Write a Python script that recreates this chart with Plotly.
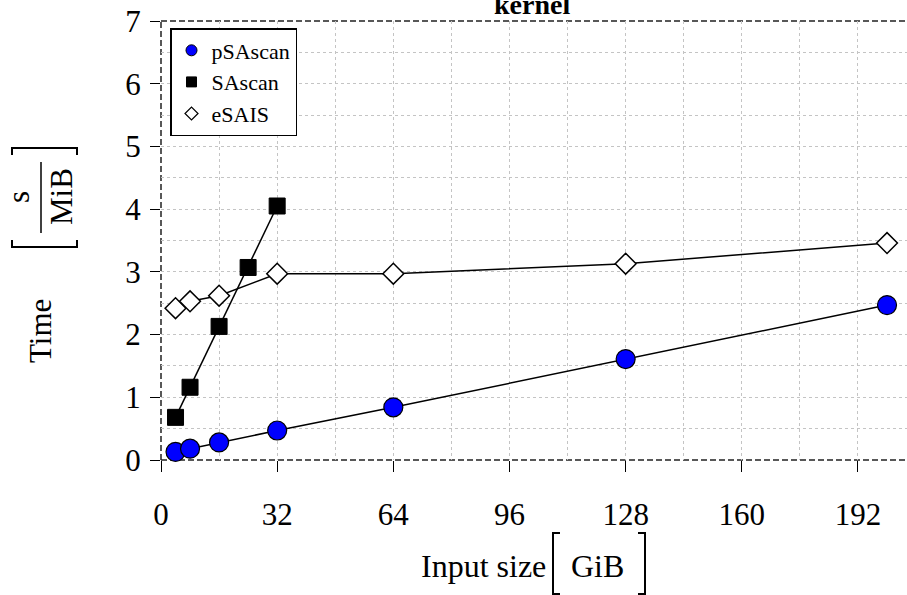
import plotly.graph_objects as go

# ---- data ----
x_psascan = [4, 8, 16, 32, 64, 128, 200]
y_psascan = [0.13, 0.18, 0.28, 0.47, 0.84, 1.61, 2.47]
x_sascan = [4, 8, 16, 24, 32]
y_sascan = [0.68, 1.16, 2.13, 3.07, 4.05]
x_esais = [4, 8, 16, 32, 64, 128, 200]
y_esais = [2.42, 2.53, 2.62, 2.97, 2.97, 3.13, 3.46]
x_ticks = [0, 32, 64, 96, 128, 160, 192]
y_ticks = [0, 1, 2, 3, 4, 5, 6, 7]

FONT = "Liberation Serif"
W, H = 907, 595
L, R, T, B = 161, 907, 21, 460


def px(X):
    return (X - L) / (R - L)


def py(Y):
    return (B - Y) / (B - T)


fig = go.Figure()

line_style = dict(color="black", width=1.5)
# data traces (no legend)
fig.add_trace(go.Scatter(x=x_esais, y=y_esais, mode="lines+markers", showlegend=False,
                         line=line_style, cliponaxis=False,
                         marker=dict(symbol="diamond", size=16, color="white",
                                     line=dict(color="black", width=1.5))))
fig.add_trace(go.Scatter(x=x_sascan, y=y_sascan, mode="lines+markers", showlegend=False,
                         line=line_style, cliponaxis=False,
                         marker=dict(symbol="square", size=16, color="black",
                                     line=dict(color="black", width=1))))
fig.add_trace(go.Scatter(x=x_psascan, y=y_psascan, mode="lines+markers", showlegend=False,
                         line=line_style, cliponaxis=False,
                         marker=dict(symbol="circle", size=19, color="#0000ff",
                                     line=dict(color="black", width=1.2))))

# legend-only traces
fig.add_trace(go.Scatter(x=[None], y=[None], mode="markers", name="pSAscan",
                         marker=dict(symbol="circle", size=11, color="#0000ff",
                                     line=dict(color="black", width=1))))
fig.add_trace(go.Scatter(x=[None], y=[None], mode="markers", name="SAscan",
                         marker=dict(symbol="square", size=10, color="black",
                                     line=dict(color="black", width=1))))
fig.add_trace(go.Scatter(x=[None], y=[None], mode="markers", name="eSAIS",
                         marker=dict(symbol="diamond", size=10, color="white",
                                     line=dict(color="black", width=1.2))))

grid = dict(showgrid=True, gridcolor="#c4c4c4", gridwidth=1, griddash="dot")

fig.update_xaxes(range=[0, 205.5], tickmode="array", tickvals=x_ticks,
                 ticktext=[str(v) for v in x_ticks],
                 ticks="outside", ticklen=11, tickcolor="black", tickwidth=1.2,
                 showline=False, zeroline=False, ticklabelstandoff=16,
                 tickfont=dict(family=FONT, size=31, color="black"),
                 minor=dict(dtick=16, tick0=0, ticks="", **grid), **grid)
fig.update_yaxes(range=[0, 7], tickmode="array", tickvals=y_ticks,
                 ticktext=[str(v) for v in y_ticks],
                 ticks="outside", ticklen=10, tickcolor="black", tickwidth=1.2,
                 showline=False, zeroline=False, ticklabelstandoff=3,
                 tickfont=dict(family=FONT, size=31, color="black"),
                 minor=dict(dtick=0.5, tick0=0, ticks="", **grid), **grid)

frame = dict(color="#222222", width=1.5, dash="6px,3px")
shapes = [
    dict(type="line", xref="paper", yref="paper", x0=0, x1=0, y0=0, y1=1, line=frame, layer="between"),
    dict(type="line", xref="paper", yref="paper", x0=0, x1=1, y0=0, y1=0, line=frame, layer="between"),
    dict(type="line", xref="paper", yref="paper", x0=0, x1=1, y0=1, y1=1, line=frame, layer="between"),
]

br = dict(color="black", width=2)
# y title brackets and fraction bar
shapes.append(dict(type="path", xref="paper", yref="paper", line=br,
                   path=f"M {px(12)},{py(240)} L {px(12)},{py(247)} L {px(77)},{py(247)} L {px(77)},{py(240)}"))
shapes.append(dict(type="path", xref="paper", yref="paper", line=br,
                   path=f"M {px(12)},{py(155)} L {px(12)},{py(148)} L {px(77)},{py(148)} L {px(77)},{py(155)}"))
shapes.append(dict(type="line", xref="paper", yref="paper", line=dict(color="black", width=1.5),
                   x0=px(41), x1=px(41), y0=py(162), y1=py(233)))
# x title brackets
shapes.append(dict(type="path", xref="paper", yref="paper", line=br,
                   path=f"M {px(560)},{py(533)} L {px(553)},{py(533)} L {px(553)},{py(594)} L {px(560)},{py(594)}"))
shapes.append(dict(type="path", xref="paper", yref="paper", line=br,
                   path=f"M {px(638)},{py(533)} L {px(645)},{py(533)} L {px(645)},{py(594)} L {px(638)},{py(594)}"))

tfont = dict(family=FONT, size=31, color="black")
annotations = [
    dict(text="Time", x=px(40), y=py(331), xref="paper", yref="paper", textangle=-90,
         showarrow=False, font=tfont, xanchor="center", yanchor="middle"),
    dict(text="s", x=px(18), y=py(197), xref="paper", yref="paper", textangle=-90,
         showarrow=False, font=tfont, xanchor="center", yanchor="middle"),
    dict(text="MiB", x=px(61), y=py(197), xref="paper", yref="paper", textangle=-90,
         showarrow=False, font=tfont, xanchor="center", yanchor="middle"),
    dict(text="Input size", x=px(483), y=py(566), xref="paper", yref="paper",
         showarrow=False, font=dict(family=FONT, size=32, color="black"),
         xanchor="center", yanchor="middle"),
    dict(text="GiB", x=px(597), y=py(566), xref="paper", yref="paper",
         showarrow=False, font=dict(family=FONT, size=32, color="black"),
         xanchor="center", yanchor="middle"),
    dict(text="<b>kernel</b>", x=px(532), y=py(22), xref="paper", yref="paper",
         showarrow=False, font=dict(family=FONT, size=28, color="black"),
         xanchor="center", yanchor="bottom"),
]

fig.update_layout(
    width=W, height=H,
    margin=dict(l=L, r=W - R, t=T, b=H - B, pad=0),
    paper_bgcolor="white", plot_bgcolor="white",
    shapes=shapes, annotations=annotations,
    legend=dict(x=px(170), y=py(28), xanchor="left", yanchor="top",
                bgcolor="white", bordercolor="black", borderwidth=1.5,
                font=dict(family=FONT, size=22, color="black"),
                itemsizing="trace", tracegroupgap=0),
    font=dict(family=FONT, color="black"),
)

fig.write_html("out.html")
